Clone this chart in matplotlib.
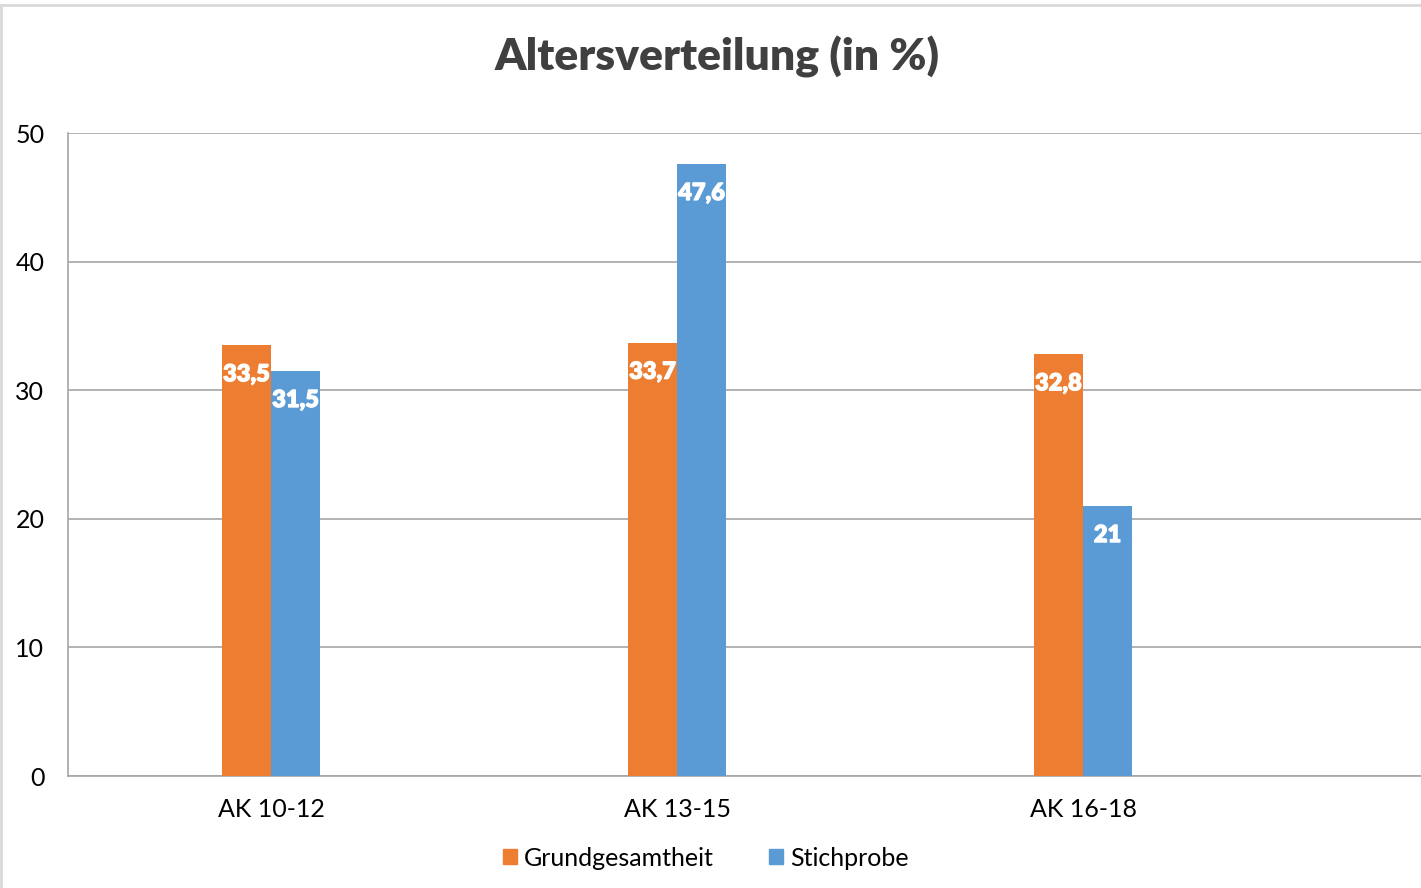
import matplotlib
matplotlib.use("Agg")
import matplotlib.pyplot as plt
from matplotlib.lines import Line2D
from matplotlib.patches import Patch
import matplotlib.patheffects as pe
import numpy as np

categories = ["AK 10-12", "AK 13-15", "AK 16-18"]
grund = [33.5, 33.7, 32.8]
stich = [31.5, 47.6, 21.0]
series_names = ["Grundgesamtheit", "Stichprobe"]
yticks = [0, 10, 20, 30, 40, 50]

plt.rcParams['font.family'] = ['Lato', 'DejaVu Sans']

W, H = 1421, 888
fig = plt.figure(figsize=(W/100, H/100), dpi=100)
ax = fig.add_axes([68/W, (H-776)/H, 1 - 68/W, (776-133)/H])

orange = "#ED7D31"
blue = "#5B9BD5"
x = np.arange(len(categories))
bw = 0.121
b1 = ax.bar(x - bw/2, grund, bw, color=orange, zorder=3)
b2 = ax.bar(x + bw/2, stich, bw, color=blue, zorder=3)

def fmt(v):
    s = f"{v:g}"
    return s.replace(".", ",")

for bars, vals, c in ((b1, grund, orange), (b2, stich, blue)):
    for r, v in zip(bars, vals):
        ax.annotate(fmt(v), (r.get_x() + r.get_width()/2, v), xytext=(0, -21),
                    textcoords="offset points", ha="center", va="center",
                    color="white", fontweight="heavy", fontsize=17, zorder=4,
                    path_effects=[pe.withStroke(linewidth=0.8, foreground="white")])

ax.set_ylim(0, 50)
ax.set_xlim(-0.5, -0.5 + 1353/406)
ax.set_yticks(yticks)
ax.set_yticklabels([str(t) for t in yticks], fontsize=18, color="#000000")
ax.set_xticks(x)
ax.set_xticklabels(categories, fontsize=18, color="#000000")
ax.tick_params(axis='both', length=0)
ax.tick_params(axis='y', pad=17)
ax.tick_params(axis='x', pad=16)
ax.yaxis.grid(True, color="#a6a6a6", linewidth=1.2, zorder=0)
for s in ("top", "right"):
    ax.spines[s].set_visible(False)
ax.spines["left"].set_color("#a6a6a6")
ax.spines["left"].set_linewidth(1.2)
ax.spines["bottom"].set_color("#a6a6a6")
ax.spines["bottom"].set_linewidth(1.2)

fig.text(717/W, 1 - 57/H, "Altersverteilung (in %)", ha="center", va="center",
         fontsize=32, fontweight="heavy", color="#404040")

handles = [Patch(color=orange), Patch(color=blue)]
fig.legend(handles, series_names, loc="center", bbox_to_anchor=(706/W, 1 - 858/H),
           ncol=2, frameon=False, fontsize=18, handlelength=0.56, handleheight=0.56,
           handletextpad=0.3, columnspacing=2.2)

# chart frame (partially cropped)
fig.add_artist(Line2D([0, 1], [1 - 5/H, 1 - 5/H], color="#d9d9d9", lw=2, transform=fig.transFigure))
fig.add_artist(Line2D([1/W, 1/W], [0, 1 - 5/H], color="#d9d9d9", lw=2, transform=fig.transFigure))

fig.savefig("out.png", dpi=100)
